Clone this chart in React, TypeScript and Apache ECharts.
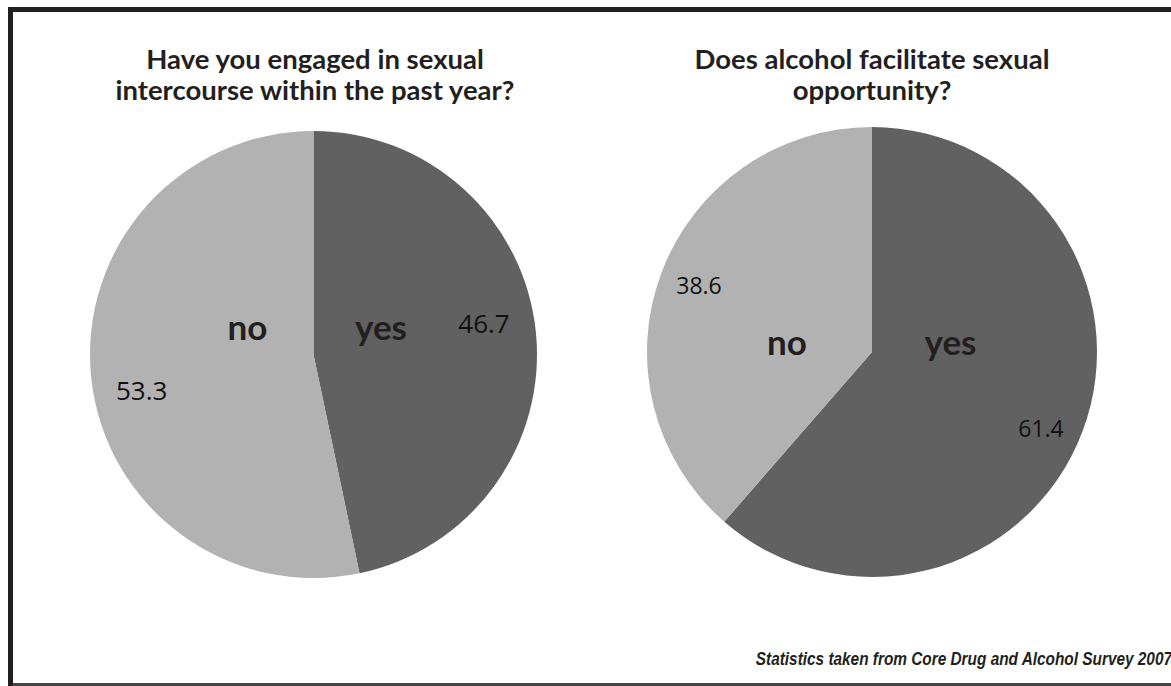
import React, { useEffect, useRef } from "react";
import * as echarts from "echarts";

// ---- data ----
const categories = ["yes", "no"];
const intercourseValues = [46.7, 53.3];
const alcoholValues = [61.4, 38.6];
const chartTitles = [
  "Have you engaged in sexual\nintercourse within the past year?",
  "Does alcohol facilitate sexual\nopportunity?",
];
const footnote = "Statistics taken from Core Drug and Alcohol Survey 2007";

// ---- layout / style ----
const W = 1171;
const H = 686;
const TEXT = "#231f20";
const sliceColors = ["#616161", "#b2b2b2"];

const pies = [
  {
    values: intercourseValues,
    center: [313.5, 354.5],
    radius: 223.5,
    valueFont: 26,
    nameOffsets: [
      [67.5, -28.7],
      [-66, -28.7],
    ],
    valueOffsets: [
      [170.5, -32],
      [-171.8, 35.5],
    ],
  },
  {
    values: alcoholValues,
    center: [872, 352],
    radius: 225,
    valueFont: 23,
    nameOffsets: [
      [78.5, -10.7],
      [-85, -10.7],
    ],
    valueOffsets: [
      [169, 76.3],
      [-173, -67.5],
    ],
  },
];

function buildOption() {
  const series: any[] = [];
  pies.forEach((p, pi) => {
    const data = categories.map((c, i) => ({
      name: c,
      value: p.values[i],
      itemStyle: { color: sliceColors[i] },
    }));
    // main pie with category name labels
    series.push({
      type: "pie",
      name: "pie" + pi,
      center: p.center,
      radius: [0, p.radius],
      startAngle: 90,
      clockwise: true,
      silent: true,
      emphasis: { disabled: true },
      labelLine: { show: false },
      label: {
        show: true,
        position: "inside",
        formatter: "{b}",
        fontFamily: "Lato",
        fontWeight: "bold",
        fontSize: 35,
        color: TEXT,
      },
      labelLayout: (params: any) => {
        const o = p.nameOffsets[params.dataIndex];
        return {
          x: p.center[0] + o[0],
          y: p.center[1] + o[1],
          align: "center",
          verticalAlign: "middle",
        };
      },
      data,
    });
    // transparent overlay carrying the value labels
    series.push({
      type: "pie",
      name: "val" + pi,
      center: p.center,
      radius: [0, p.radius],
      startAngle: 90,
      clockwise: true,
      silent: true,
      z: 3,
      emphasis: { disabled: true },
      labelLine: { show: false },
      itemStyle: { color: "rgba(0,0,0,0)" },
      label: {
        show: true,
        position: "inside",
        formatter: (d: any) => d.value.toFixed(1),
        fontFamily: "Open Sans",
        fontWeight: "normal",
        fontSize: p.valueFont,
        color: "#111111",
      },
      labelLayout: (params: any) => {
        const o = p.valueOffsets[params.dataIndex];
        return {
          x: p.center[0] + o[0],
          y: p.center[1] + o[1],
          align: "center",
          verticalAlign: "middle",
        };
      },
      data: categories.map((c, i) => ({
        name: c,
        value: p.values[i],
        itemStyle: { color: "rgba(0,0,0,0)" },
      })),
    });
  });

  return {
    animation: false,
    backgroundColor: "#ffffff",
    title: chartTitles.map((t, i) => ({
      text: t,
      left: i === 0 ? 315 : 872,
      top: 43,
      textAlign: "center",
      padding: 0,
      textStyle: {
        fontFamily: "Lato",
        fontWeight: "bold",
        fontSize: 27.5,
        lineHeight: 31,
        color: TEXT,
      },
    })),
    graphic: [
      { type: "rect", shape: { x: 8, y: 7, width: W - 8, height: 5 }, style: { fill: TEXT } },
      { type: "rect", shape: { x: 8, y: 7, width: 5, height: H - 7 }, style: { fill: TEXT } },
      { type: "rect", shape: { x: 13, y: 683, width: W - 13, height: 3 }, style: { fill: "#454545" } },
      {
        type: "text",
        x: 1172,
        y: 658.5,
        scaleX: 0.81,
        style: {
          text: footnote,
          align: "right",
          verticalAlign: "middle",
          fontFamily: "'Liberation Sans', Arial",
          fontWeight: "bold",
          fontStyle: "italic",
          fontSize: 19,
          fill: TEXT,
        },
      },
    ],
    series,
  };
}

export default function App() {
  const ref = useRef<HTMLDivElement>(null);
  useEffect(() => {
    if (!ref.current) return;
    const chart = echarts.init(ref.current, undefined, { renderer: "svg" });
    chart.setOption(buildOption() as any);
    return () => chart.dispose();
  }, []);
  return (
    <div
      ref={ref}
      style={{ position: "fixed", left: 0, top: 0, width: W, height: H, background: "#fff" }}
    />
  );
}
